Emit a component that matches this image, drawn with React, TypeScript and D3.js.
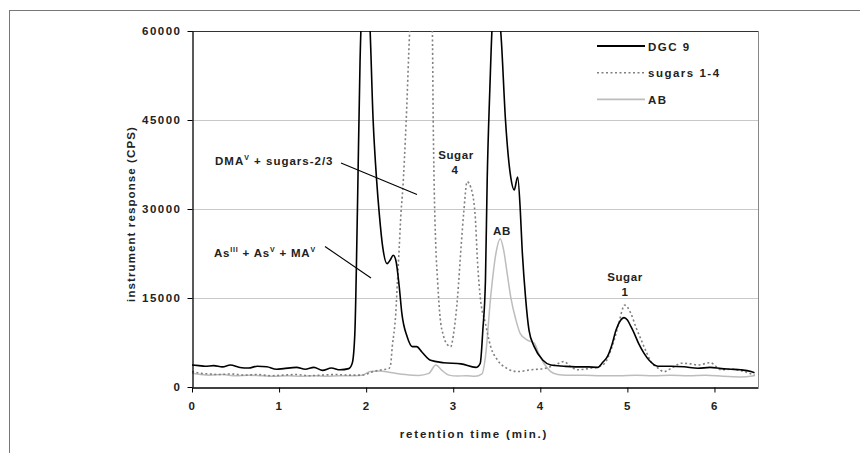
import React, { useEffect, useRef } from "react";
import * as d3 from "d3";

// retention time (min) / response (CPS)
const dgcTime = [0, 0.08, 0.15, 0.25, 0.35, 0.44, 0.55, 0.65, 0.75, 0.86, 0.97, 1.05, 1.2, 1.3, 1.4, 1.5, 1.6, 1.7, 1.8, 1.84, 1.87, 1.9, 1.93, 1.96, 2.0, 2.04, 2.08, 2.12, 2.15, 2.19, 2.24, 2.28, 2.31, 2.34, 2.38, 2.41, 2.47, 2.53, 2.58, 2.64, 2.74, 2.89, 3.09, 3.26, 3.31, 3.34, 3.37, 3.39, 3.42, 3.46, 3.5, 3.55, 3.6, 3.66, 3.7, 3.74, 3.77, 3.79, 3.83, 3.87, 3.93, 4.03, 4.12, 4.27, 4.4, 4.55, 4.66, 4.72, 4.77, 4.82, 4.87, 4.92, 4.96, 5.0, 5.04, 5.08, 5.13, 5.19, 5.25, 5.35, 5.5, 5.65, 5.81, 5.95, 6.08, 6.19, 6.3, 6.42, 6.46];
const dgcCps = [3700, 3600, 3500, 3600, 3400, 3700, 3300, 3200, 3500, 3400, 3000, 3100, 3300, 3000, 3300, 2800, 3200, 2900, 3100, 4000, 9000, 30000, 55000, 66000, 68000, 62000, 45000, 34900, 29300, 23600, 20800, 21500, 22200, 21400, 16900, 12400, 8500, 6800, 6800, 5900, 4500, 4100, 3900, 3300, 4000, 9600, 18000, 34900, 50000, 64000, 66000, 59000, 45000, 35400, 33200, 35400, 29800, 23600, 15200, 9600, 6800, 4500, 3700, 3500, 3400, 3400, 3300, 4200, 5100, 7000, 9600, 11200, 11700, 11300, 10200, 9000, 7300, 5700, 4500, 3500, 3500, 3400, 3150, 3300, 3100, 3000, 2900, 2600, 2400];

const sugarTime = [0, 0.1, 0.2, 0.3, 0.45, 0.6, 0.75, 0.9, 1.05, 1.2, 1.35, 1.5, 1.65, 1.8, 1.95, 2.08, 2.18, 2.26, 2.28, 2.3, 2.34, 2.36, 2.38, 2.4, 2.42, 2.46, 2.5, 2.56, 2.63, 2.7, 2.76, 2.77, 2.78, 2.8, 2.82, 2.845, 2.89, 2.93, 2.97, 3.01, 3.05, 3.09, 3.12, 3.16, 3.2, 3.25, 3.28, 3.31, 3.37, 3.43, 3.51, 3.62, 3.74, 3.89, 4.04, 4.17, 4.27, 4.35, 4.43, 4.55, 4.66, 4.74, 4.81, 4.86, 4.9, 4.97, 5.04, 5.1, 5.16, 5.22, 5.27, 5.35, 5.42, 5.52, 5.62, 5.72, 5.81, 5.95, 6.08, 6.2, 6.32, 6.46];
const sugarCps = [2600, 2300, 2200, 2100, 2200, 2000, 2100, 1900, 2000, 2100, 1900, 2000, 2100, 2000, 2000, 2600, 2900, 3100, 3700, 6800, 12400, 18000, 23600, 29300, 33200, 45000, 60000, 72000, 76000, 72000, 60000, 45000, 34900, 23600, 18000, 12400, 8500, 7200, 6800, 9600, 15200, 23600, 29300, 34600, 33700, 29300, 20800, 15200, 10700, 6800, 4500, 3100, 2600, 2900, 3100, 3700, 4300, 3400, 2900, 3100, 3400, 4000, 6200, 8500, 10700, 13800, 12400, 10000, 7900, 5800, 4300, 3200, 2600, 3300, 4000, 3900, 3700, 4100, 2900, 3000, 2700, 2000];

const abTime = [0, 0.1, 0.2, 0.35, 0.5, 0.65, 0.8, 0.95, 1.1, 1.25, 1.4, 1.55, 1.7, 1.82, 1.95, 2.05, 2.15, 2.3, 2.45, 2.6, 2.72, 2.8, 2.87, 2.95, 3.05, 3.15, 3.25, 3.33, 3.37, 3.43, 3.49, 3.54, 3.58, 3.62, 3.66, 3.72, 3.77, 3.85, 3.93, 3.98, 4.04, 4.12, 4.2, 4.3, 4.5, 4.7, 4.9, 5.1, 5.3, 5.5, 5.7, 5.9, 6.1, 6.3, 6.46];
const abCps = [2300, 2100, 2000, 2100, 1900, 2000, 1900, 1800, 1900, 1800, 1900, 1800, 1900, 1900, 2000, 2600, 2700, 2400, 2100, 1950, 2300, 3700, 2800, 2000, 1850, 1900, 1800, 2200, 5100, 15200, 22500, 25000, 23000, 19100, 15200, 11300, 9000, 7900, 7400, 5700, 4000, 2600, 2100, 2000, 2000, 1900, 1900, 2000, 1900, 2000, 1900, 2000, 1800, 1700, 1900];

const xTicks = [0, 1, 2, 3, 4, 5, 6];
const yTicks = [0, 15000, 30000, 45000, 60000];
const seriesNames = ["DGC 9", "sugars 1-4", "AB"];

const Chart = () => {
    const chartRef = useRef<HTMLDivElement>(null);

    useEffect(() => {
        const width = 860;
        const height = 453;
        const margin = { top: 31, right: 102, bottom: 66, left: 192 };
        const font = "'Liberation Sans', Arial, sans-serif";

        d3.select(chartRef.current).select("svg").remove();

        const svg = d3
            .select(chartRef.current)
            .append("svg")
            .attr("width", width)
            .attr("height", height)
            .style("display", "block")
            .style("font-family", font)
            .style("font-weight", "bold");

        svg.append("rect")
            .attr("x", 9.5)
            .attr("y", 10.5)
            .attr("width", 900)
            .attr("height", 500)
            .attr("fill", "white")
            .attr("stroke", "#777");

        const xScale = d3
            .scaleLinear()
            .domain([0, 6.5])
            .range([margin.left, width - margin.right]);

        const yScale = d3
            .scaleLinear()
            .domain([0, 60000])
            .range([height - margin.bottom, margin.top]);

        const x0 = xScale(0), x1 = xScale(6.5), y0 = yScale(0), y1 = yScale(60000);

        // gridlines
        svg.append("g")
            .selectAll("line")
            .data(yTicks.filter((d) => d > 0 && d < 60000))
            .join("line")
            .attr("x1", x0)
            .attr("x2", x1)
            .attr("y1", (d) => Math.round(yScale(d)) + 0.5)
            .attr("y2", (d) => Math.round(yScale(d)) + 0.5)
            .attr("stroke", "#c8c8c8");

        // plot frame
        svg.append("line").attr("x1", x0).attr("x2", x1).attr("y1", y1 + 0.5).attr("y2", y1 + 0.5).attr("stroke", "#333");
        svg.append("line").attr("x1", x1 + 0.5).attr("x2", x1 + 0.5).attr("y1", y1).attr("y2", y0).attr("stroke", "#888");

        svg.append("clipPath")
            .attr("id", "plot-clip")
            .append("rect")
            .attr("x", x0)
            .attr("y", y1)
            .attr("width", x1 - x0)
            .attr("height", y0 - y1);

        const line = d3
            .line<[number, number]>()
            .x((d) => xScale(d[0]))
            .y((d) => yScale(d[1]))
            .curve(d3.curveMonotoneX);

        const series = [
            { time: abTime, cps: abCps, color: "#bdbdbd", dash: null, w: 1.5 },
            { time: sugarTime, cps: sugarCps, color: "#808080", dash: "2,2.5", w: 1.6 },
            { time: dgcTime, cps: dgcCps, color: "#000", dash: null, w: 1.6 },
        ];

        const g = svg.append("g").attr("clip-path", "url(#plot-clip)");
        series.forEach((s) => {
            g.append("path")
                .datum(s.time.map((t, i) => [t, s.cps[i]] as [number, number]))
                .attr("fill", "none")
                .attr("stroke", s.color)
                .attr("stroke-width", s.w)
                .attr("stroke-dasharray", s.dash)
                .attr("stroke-linejoin", "round")
                .attr("d", line);
        });

        // axes
        const xAxis = svg.append("g")
            .attr("transform", `translate(0,${Math.round(y0) + 0.5})`)
            .call(d3.axisBottom(xScale).tickValues(xTicks).tickSize(5).tickSizeOuter(0).tickFormat(d3.format("d")));
        const yAxis = svg.append("g")
            .attr("transform", `translate(${Math.round(x0) + 0.5},0)`)
            .call(d3.axisLeft(yScale).tickValues(yTicks).tickSize(5).tickSizeOuter(0).tickFormat(d3.format("d")));

        [xAxis, yAxis].forEach((a) => {
            a.select(".domain").attr("stroke", "#000").attr("stroke-width", 1.3);
            a.selectAll(".tick line").attr("stroke", "#000");
            a.selectAll("text")
                .attr("fill", "#222")
                .style("font-family", font)
                .style("font-size", "11.5px")
                .style("font-weight", "bold")
                .style("letter-spacing", "1.5px");
        });
        xAxis.selectAll("text").attr("dy", "1.25em");
        yAxis.selectAll("text").attr("x", -11);

        svg.append("text")
            .attr("x", 474)
            .attr("y", 438)
            .attr("text-anchor", "middle")
            .attr("fill", "#222")
            .style("font-size", "11.5px")
            .style("letter-spacing", "1.8px")
            .text("retention time (min.)");

        svg.append("text")
            .attr("transform", `translate(135,214) rotate(-90)`)
            .attr("text-anchor", "middle")
            .attr("fill", "#222")
            .style("font-size", "11.5px")
            .style("letter-spacing", "1.1px")
            .text("instrument response (CPS)");

        // legend
        const legend = svg.append("g");
        seriesNames.forEach((name, i) => {
            const s = series[2 - i];
            const y = 46 + i * 26.7;
            legend.append("line")
                .attr("x1", 597)
                .attr("x2", 645)
                .attr("y1", y)
                .attr("y2", y)
                .attr("stroke", s.color)
                .attr("stroke-width", i === 0 ? 2 : 1.6)
                .attr("stroke-dasharray", s.dash);
            legend.append("text")
                .attr("x", 648)
                .attr("y", y + 4.5)
                .attr("fill", "#222")
                .style("font-size", "11.5px")
                .style("letter-spacing", "1.5px")
                .text(name);
        });

        // peak annotations
        const label = (x: number, y: number, txt: string) =>
            svg.append("text")
                .attr("x", x)
                .attr("y", y)
                .attr("text-anchor", "middle")
                .attr("fill", "#222")
                .style("font-size", "11.5px")
                .style("letter-spacing", "0.6px")
                .text(txt);

        label(456, 158.5, "Sugar");
        label(455, 173.5, "4");
        label(502, 235, "AB");
        label(625, 281, "Sugar");
        label(625, 296, "1");

        const dma = svg.append("text")
            .attr("x", 215)
            .attr("y", 165)
            .attr("fill", "#222")
            .style("font-size", "11.5px")
            .style("letter-spacing", "1px");
        dma.append("tspan").text("DMA");
        dma.append("tspan").attr("dy", -5).style("font-size", "7px").text("V");
        dma.append("tspan").attr("dy", 5).text(" + sugars-2/3");

        const as = svg.append("text")
            .attr("x", 214)
            .attr("y", 257)
            .attr("fill", "#222")
            .style("font-size", "11.5px")
            .style("letter-spacing", "0.8px");
        as.append("tspan").text("As");
        as.append("tspan").attr("dy", -5).style("font-size", "7px").text("III");
        as.append("tspan").attr("dy", 5).text(" + As");
        as.append("tspan").attr("dy", -5).style("font-size", "7px").text("V");
        as.append("tspan").attr("dy", 5).text(" + MA");
        as.append("tspan").attr("dy", -5).style("font-size", "7px").text("V");

        svg.append("line").attr("x1", 341).attr("y1", 163).attr("x2", 417).attr("y2", 194.5).attr("stroke", "#000").attr("stroke-width", 1.1);
        svg.append("line").attr("x1", 325).attr("y1", 246.5).attr("x2", 371).attr("y2", 278).attr("stroke", "#000").attr("stroke-width", 1.1);
    }, []);

    return <div ref={chartRef} style={{ position: "absolute", left: 0, top: 0 }}></div>;
};

export default function App() {
    return <Chart />;
}
